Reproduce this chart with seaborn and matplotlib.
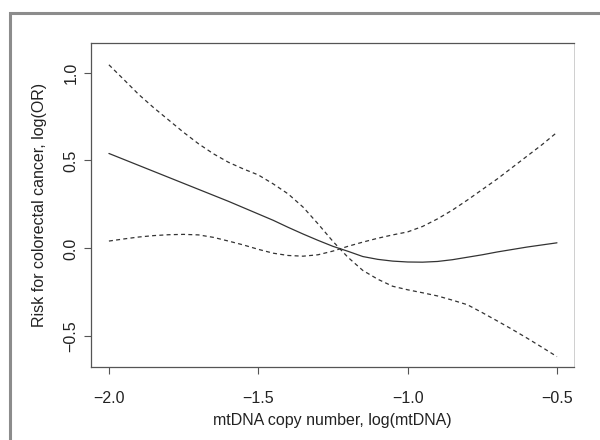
import matplotlib
matplotlib.use("Agg")
import matplotlib.pyplot as plt
import seaborn as sns
import pandas as pd

# log(mtDNA) grid
log_mtdna = [-2.00, -1.95, -1.90, -1.85, -1.80, -1.75, -1.70, -1.65, -1.60, -1.55,
             -1.50, -1.45, -1.40, -1.35, -1.30, -1.25, -1.20, -1.15, -1.10, -1.05,
             -1.00, -0.95, -0.90, -0.85, -0.80, -0.75, -0.70, -0.65, -0.60, -0.55,
             -0.50]

# estimate log(OR), solid line
log_or = [0.540, 0.506, 0.472, 0.438, 0.404, 0.370, 0.336, 0.302, 0.268, 0.232,
          0.196, 0.160, 0.120, 0.082, 0.046, 0.012, -0.016, -0.046, -0.062, -0.072,
          -0.077, -0.078, -0.074, -0.064, -0.050, -0.036, -0.020, -0.006, 0.008, 0.020,
          0.032]

# dashed band 1 (high on the left)
band_a = [1.044, 0.960, 0.875, 0.800, 0.730, 0.660, 0.595, 0.538, 0.490, 0.452,
          0.418, 0.367, 0.310, 0.235, 0.140, 0.040, -0.050, -0.125, -0.175, -0.215,
          -0.235, -0.252, -0.270, -0.294, -0.320, -0.365, -0.412, -0.460, -0.510, -0.562,
          -0.615]

# dashed band 2 (high on the right)
band_b = [0.042, 0.054, 0.065, 0.073, 0.078, 0.080, 0.077, 0.063, 0.042, 0.020,
          -0.005, -0.027, -0.040, -0.044, -0.036, -0.015, 0.012, 0.036, 0.058, 0.077,
          0.094, 0.125, 0.168, 0.218, 0.275, 0.335, 0.395, 0.460, 0.525, 0.590,
          0.660]

xticks = [-2.0, -1.5, -1.0, -0.5]
xtick_labels = ["\u22122.0", "\u22121.5", "\u22121.0", "\u22120.5"]
yticks = [-0.5, 0.0, 0.5, 1.0]
ytick_labels = ["\u22120.5", "0.0", "0.5", "1.0"]

df = pd.DataFrame({"x": log_mtdna, "est": log_or, "a": band_a, "b": band_b})

sns.set_style("white")
plt.rcParams["font.family"] = ["Liberation Sans", "DejaVu Sans"]

W, H = 600, 440
fig = plt.figure(figsize=(6, 4.4), dpi=100)

# grey frame round the panel (only top and left show)
frame = plt.Rectangle((10 / W, -0.2), 1.5, 1.2 - 13 / H, transform=fig.transFigure,
                      fill=False, edgecolor="#8c8c8c", lw=2.2)
fig.add_artist(frame)

ax = fig.add_axes([91 / W, 1 - 367 / H, (574 - 91) / W, (367 - 43) / H])

lc = "#333333"
sns.lineplot(data=df, x="x", y="est", ax=ax, color=lc, lw=0.9)
sns.lineplot(data=df, x="x", y="a", ax=ax, color=lc, lw=0.9, dashes=False,
             linestyle=(0, (3.2, 2.6)))
sns.lineplot(data=df, x="x", y="b", ax=ax, color=lc, lw=0.9, dashes=False,
             linestyle=(0, (3.2, 2.6)))

ax.set_xlim(-2.06, -0.443)
ax.set_ylim(-0.674, 1.168)

ax.set_xticks(xticks)
ax.set_xticklabels(xtick_labels)
ax.set_yticks(yticks)
ax.set_yticklabels(ytick_labels)
for lab in ax.get_yticklabels():
    lab.set_rotation(90)
    lab.set_va("center")

ax.tick_params(axis="both", length=5, width=0.8, color="#555555",
               labelsize=11.5, labelcolor="#222222")
ax.tick_params(axis="x", pad=12)
ax.tick_params(axis="y", pad=4)
ax.tick_params(left=True, bottom=True)

for side in ["left", "bottom", "top"]:
    ax.spines[side].set_color("#555555")
    ax.spines[side].set_linewidth(0.9)
ax.spines["right"].set_color("#c8c8c8")
ax.spines["right"].set_linewidth(0.6)

ax.set_xlabel("mtDNA copy number, log(mtDNA)", fontsize=11.5, color="#222222")
ax.set_ylabel("Risk for colorectal cancer, log(OR)", fontsize=11.5, color="#222222")
ax.xaxis.set_label_coords(0.5, -0.143)
ax.yaxis.set_label_coords(-0.091, 0.5)

fig.savefig("out.png", dpi=100)
